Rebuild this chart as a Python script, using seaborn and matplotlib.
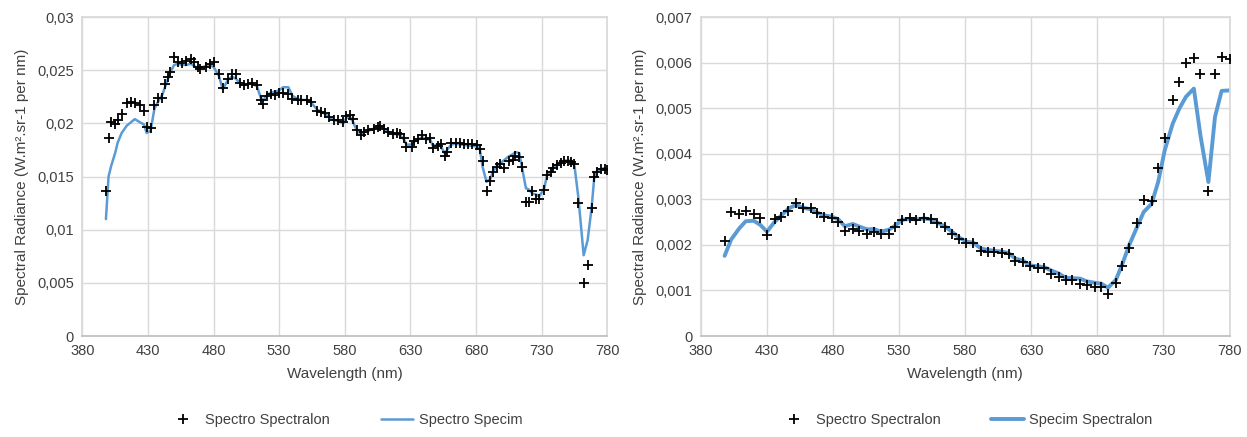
import matplotlib

matplotlib.use("Agg")
import matplotlib.pyplot as plt
import pandas as pd
import seaborn as sns
from matplotlib.lines import Line2D
from matplotlib.ticker import FuncFormatter, MultipleLocator

sns.set_theme(style="white")
plt.rcParams["font.family"] = ["Liberation Sans", "DejaVu Sans"]

# left panel: spectro on spectralon vs spectro on specim
wl_left = [
    398, 400, 402, 405, 407, 410, 414, 417, 420, 424, 427, 429, 432, 435, 438, 441, 443, 445,
    447, 450, 453, 456, 459, 463, 465, 468, 470, 474, 477, 480, 484, 487, 491, 494, 497, 500,
    503, 506, 509, 513, 516, 518, 521, 524, 527, 530, 533, 537, 540, 544, 547, 551, 554, 559,
    562, 565, 568, 572, 575, 579, 581, 584, 586, 589, 592, 595, 598, 602, 605, 607, 610, 613,
    617, 620, 622, 625, 627, 631, 633, 636, 639, 642, 645, 647, 651, 653, 656, 658, 661, 665,
    668, 671, 674, 677, 681, 683, 685, 688, 691, 693, 696, 698, 701, 705, 708, 710, 713, 715,
    718, 720, 723, 726, 728, 732, 734, 737, 739, 742, 745, 747, 750, 752, 755, 758, 762, 765,
    768, 770, 772, 775, 778, 780,
]
spectralon_left = [
    0.0136, 0.0186, 0.0201, 0.0199, 0.0203, 0.0209, 0.0219, 0.0220, 0.0219, 0.0217, 0.0212,
    0.0197, 0.0196, 0.0217, 0.0224, 0.0224, 0.0237, 0.0244, 0.0248, 0.0262, 0.0258, 0.0257,
    0.0259, 0.0261, 0.0258, 0.0253, 0.0251, 0.0253, 0.0256, 0.0258, 0.0246, 0.0233, 0.0242,
    0.0246, 0.0246, 0.0238, 0.0236, 0.0237, 0.0238, 0.0236, 0.0222, 0.0218, 0.0226, 0.0228,
    0.0227, 0.0229, 0.0229, 0.0228, 0.0223, 0.0222, 0.0222, 0.0222, 0.0220, 0.0212, 0.0211,
    0.0210, 0.0206, 0.0203, 0.0203, 0.0201, 0.0207, 0.0208, 0.0204, 0.0194, 0.0189, 0.0192,
    0.0194, 0.0195, 0.0197, 0.0198, 0.0195, 0.0192, 0.0190, 0.0191, 0.0190, 0.0186, 0.0178,
    0.0178, 0.0183, 0.0185, 0.0189, 0.0185, 0.0186, 0.0177, 0.0179, 0.0181, 0.0169, 0.0173,
    0.0182, 0.0182, 0.0182, 0.0181, 0.0181, 0.0181, 0.0180, 0.0176, 0.0165, 0.0136, 0.0146,
    0.0154, 0.0159, 0.0162, 0.0158, 0.0165, 0.0166, 0.0169, 0.0168, 0.0159, 0.0126, 0.0126,
    0.0136, 0.0129, 0.0129, 0.0137, 0.0151, 0.0154, 0.0158, 0.0161, 0.0163, 0.0165, 0.0165,
    0.0164, 0.0162, 0.0125, 0.0050, 0.0067, 0.0120, 0.0150, 0.0154, 0.0157, 0.0157, 0.0156,
]
specim_left = [
    0.0110, 0.0150, 0.0160, 0.0172, 0.0182, 0.0191, 0.0198, 0.0201, 0.0204, 0.0201, 0.0199,
    0.0191, 0.0193, 0.0214, 0.0221, 0.0227, 0.0234, 0.0241, 0.0248, 0.0255, 0.0256, 0.0255,
    0.0255, 0.0256, 0.0254, 0.0252, 0.0252, 0.0254, 0.0255, 0.0253, 0.0245, 0.0232, 0.0241,
    0.0244, 0.0242, 0.0238, 0.0236, 0.0237, 0.0238, 0.0235, 0.0224, 0.0222, 0.0227, 0.0229,
    0.0230, 0.0231, 0.0234, 0.0234, 0.0226, 0.0223, 0.0222, 0.0222, 0.0220, 0.0213, 0.0211,
    0.0209, 0.0206, 0.0203, 0.0202, 0.0200, 0.0205, 0.0206, 0.0202, 0.0194, 0.0190, 0.0192,
    0.0193, 0.0195, 0.0196, 0.0197, 0.0195, 0.0192, 0.0190, 0.0190, 0.0189, 0.0185, 0.0180,
    0.0180, 0.0183, 0.0185, 0.0187, 0.0185, 0.0185, 0.0179, 0.0180, 0.0179, 0.0172, 0.0175,
    0.0180, 0.0181, 0.0180, 0.0180, 0.0179, 0.0179, 0.0178, 0.0175, 0.0159, 0.0145, 0.0148,
    0.0155, 0.0160, 0.0162, 0.0165, 0.0169, 0.0171, 0.0173, 0.0172, 0.0159, 0.0139, 0.0138,
    0.0134, 0.0133, 0.0131, 0.0139, 0.0151, 0.0155, 0.0159, 0.0162, 0.0164, 0.0165, 0.0165,
    0.0165, 0.0160, 0.0130, 0.0076, 0.0090, 0.0120, 0.0148, 0.0155, 0.0157, 0.0158, 0.0158,
]

# right panel: spectro on spectralon vs specim on spectralon
wl_right = [
    398, 403, 409, 414, 420, 425, 430, 436, 441, 446, 452, 457, 463, 468, 473, 479, 484, 489,
    495, 500, 506, 511, 516, 522, 527, 532, 538, 543, 549, 554, 559, 565, 570, 575, 581, 586,
    592, 597, 602, 608, 613, 618, 624, 629, 635, 640, 645, 651, 656, 661, 667, 672, 678, 683,
    688, 694, 699, 704, 710, 715, 721, 726, 731, 737, 742, 747, 753, 758, 764, 769, 774, 780,
]
spectralon_right = [
    0.00208, 0.00273, 0.00267, 0.00275, 0.00267, 0.00258, 0.00221, 0.00256, 0.00262, 0.00275,
    0.00291, 0.00282, 0.00280, 0.00269, 0.00262, 0.00258, 0.00251, 0.00231, 0.00234, 0.00230,
    0.00223, 0.00229, 0.00224, 0.00223, 0.00239, 0.00254, 0.00258, 0.00254, 0.00258, 0.00256,
    0.00249, 0.00239, 0.00225, 0.00214, 0.00205, 0.00205, 0.00186, 0.00184, 0.00184, 0.00182,
    0.00179, 0.00164, 0.00162, 0.00153, 0.00150, 0.00150, 0.00137, 0.00129, 0.00122, 0.00122,
    0.00115, 0.00111, 0.00107, 0.00107, 0.00093, 0.00116, 0.00153, 0.00194, 0.00248, 0.00298,
    0.00296, 0.00369, 0.00435, 0.00517, 0.00558, 0.00599, 0.00611, 0.00576, 0.00318, 0.00576,
    0.00612, 0.00607,
]
specim_right = [
    0.00176, 0.00212, 0.00236, 0.00252, 0.00253, 0.00244, 0.00229, 0.00251, 0.00265, 0.00279,
    0.00288, 0.00282, 0.00278, 0.00271, 0.00265, 0.00262, 0.00256, 0.00241, 0.00246, 0.00240,
    0.00234, 0.00235, 0.00229, 0.00233, 0.00242, 0.00255, 0.00257, 0.00256, 0.00258, 0.00256,
    0.00249, 0.00240, 0.00229, 0.00217, 0.00207, 0.00205, 0.00192, 0.00189, 0.00187, 0.00185,
    0.00182, 0.00170, 0.00165, 0.00155, 0.00153, 0.00151, 0.00144, 0.00137, 0.00128, 0.00127,
    0.00126, 0.00120, 0.00117, 0.00115, 0.00106, 0.00123, 0.00159, 0.00199, 0.00239, 0.00272,
    0.00290, 0.00338, 0.00408, 0.00466, 0.00499, 0.00525, 0.00543, 0.00440, 0.00338, 0.00481,
    0.00538, 0.00539,
]

x_ticks = [380, 430, 480, 530, 580, 630, 680, 730, 780]

line_color = "#5B9BD5"
grid_color = "#d9d9d9"
text_color = "#404040"


def comma_fmt(v, pos):
    return f"{v:g}".replace(".", ",")


def draw_panel(ax, wl, pts, line, ymax, ystep, line_lw, line_label):
    df = pd.DataFrame({"wl": wl, "pts": pts, "line": line})
    sns.lineplot(data=df, x="wl", y="line", color=line_color, lw=line_lw, ax=ax)
    sns.scatterplot(
        data=df, x="wl", y="pts", marker="+", color="black", s=60, linewidth=1.3, ax=ax, zorder=3
    )
    ax.set_xlim(380, 780)
    ax.set_ylim(0, ymax)
    ax.set_xticks(x_ticks)
    ax.yaxis.set_major_locator(MultipleLocator(ystep))
    ax.yaxis.set_major_formatter(FuncFormatter(comma_fmt))
    ax.grid(True, color=grid_color, lw=1)
    ax.set_axisbelow(True)
    for side, sp in ax.spines.items():
        sp.set_color(grid_color)
    ax.spines["bottom"].set_color("#bfbfbf")
    ax.tick_params(length=0, labelsize=10.5, colors=text_color, pad=6)
    ax.set_xlabel("Wavelength (nm)", fontsize=11, color=text_color, labelpad=6)
    ax.set_ylabel("Spectral Radiance (W.m².sr-1 per nm)", fontsize=11, color=text_color, labelpad=6)

    handles = [
        Line2D([], [], marker="+", ls="none", color="black", markersize=7, mew=1.3),
        Line2D([], [], color=line_color, lw=line_lw),
    ]
    ax.legend(
        handles,
        ["Spectro Spectralon", line_label],
        loc="upper center",
        bbox_to_anchor=(0.5, -0.2),
        ncol=2,
        frameon=False,
        fontsize=10.5,
        labelcolor=text_color,
        handlelength=2.2,
        handletextpad=0.4,
        columnspacing=3.5,
    )


fig = plt.figure(figsize=(12.47, 4.37), dpi=100)
ax1 = fig.add_axes([0.066, 0.231, 0.421, 0.730])
ax2 = fig.add_axes([0.562, 0.231, 0.424, 0.730])

draw_panel(ax1, wl_left, spectralon_left, specim_left, 0.03, 0.005, 1.8, "Spectro Specim")
draw_panel(ax2, wl_right, spectralon_right, specim_right, 0.007, 0.001, 2.8, "Specim Spectralon")

fig.savefig("out.png", dpi=100)
